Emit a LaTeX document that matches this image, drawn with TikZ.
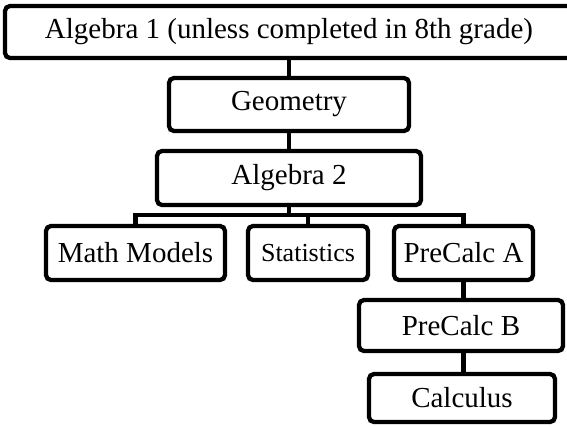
\documentclass[tikz,border=0pt]{standalone}
\usepackage{fontspec}
\setmainfont{Liberation Serif}
\begin{document}
\begin{tikzpicture}[x=1pt,y=-1pt,
  box/.style={draw=black, line width=4.3pt, rounded corners=5pt, fill=white, inner sep=0pt,
    font=\fontsize{29}{34}\selectfont},
  conn/.style={draw=black, line width=4.3pt},
]
\useasboundingbox (0,0) rectangle (567,426);
\node[box, minimum width=568pt, minimum height=52pt] (top) at (289,32) {Algebra 1 (unless completed in 8th grade)};
\node[box, minimum width=240pt, minimum height=53pt] (geo) at (289,104.5) {Geometry};
\node[box, minimum width=264pt, minimum height=54pt] (alg) at (289,178) {Algebra 2};
\node[box, minimum width=179pt, minimum height=54pt] (mm) at (135.5,253) {Math Models};
\node[box, minimum width=120pt, minimum height=54pt, font=\fontsize{26}{30}\selectfont] (st) at (308,253) {Statistics};
\node[box, minimum width=139pt, minimum height=54pt] (pa) at (463.5,253) {PreCalc A};
\node[box, minimum width=204pt, minimum height=51pt] (pb) at (461,325.5) {PreCalc B};
\node[box, minimum width=186pt, minimum height=48pt] (calc) at (462,398) {Calculus};
\coordinate (bus) at (289,215);
\draw[conn] (top.south) -- (geo.north);
\draw[conn] (geo.south) -- (alg.north);
\draw[conn] (alg.south) -- (bus);
\draw[conn] (mm.north) |- (pa.north |- bus) -- (pa.north);
\draw[conn] (st.north) -- (st.north |- bus);
\draw[conn] (pa.south) -- (pa.south |- pb.north);
\draw[conn] (pa.south |- pb.south) -- (pa.south |- calc.north);
\end{tikzpicture}
\end{document}
